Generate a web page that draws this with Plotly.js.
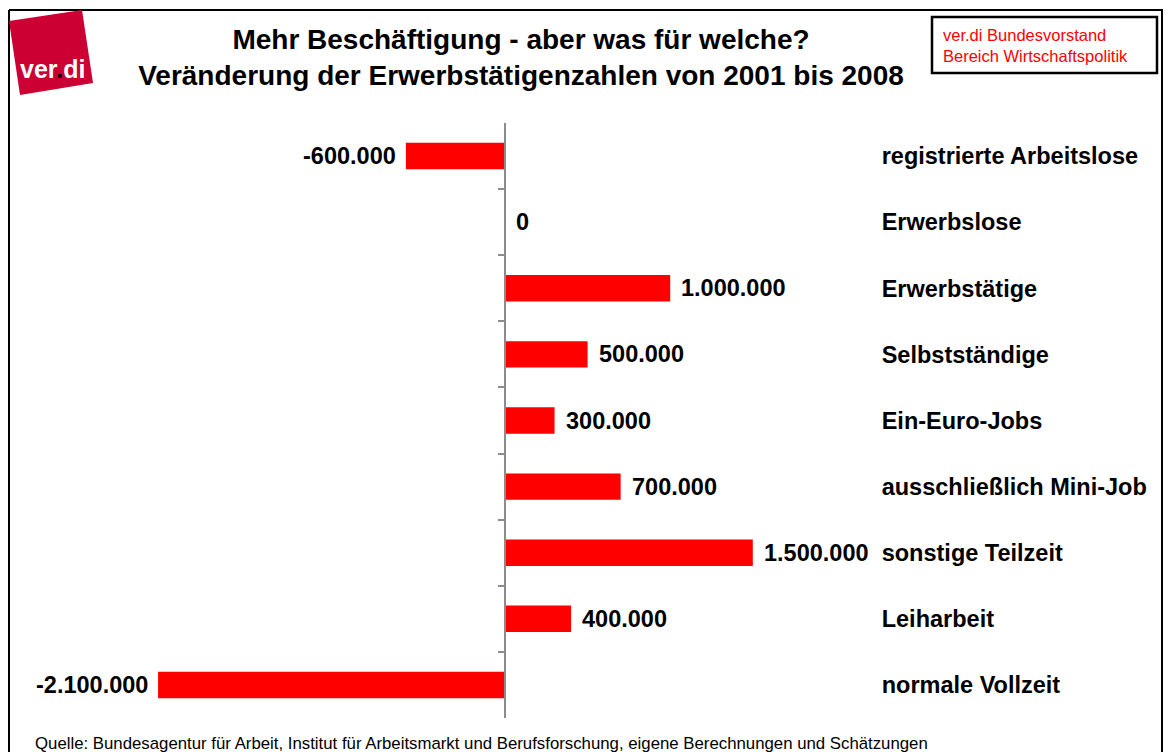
<!DOCTYPE html>
<html>
<head>
<meta charset="utf-8">
<script src="https://cdn.plot.ly/plotly-3.0.1.min.js"></script>
<style>html,body{margin:0;padding:0;background:#fff;}#chart{width:1169px;height:752px;}</style>
</head>
<body>
<div id="chart"></div>
<script>
// ---- data ----
const categories = [
  "registrierte Arbeitslose",
  "Erwerbslose",
  "Erwerbstätige",
  "Selbstständige",
  "Ein-Euro-Jobs",
  "ausschließlich Mini-Job",
  "sonstige Teilzeit",
  "Leiharbeit",
  "normale Vollzeit"
];
const changes = [-600000, 0, 1000000, 500000, 300000, 700000, 1500000, 400000, -2100000];

const titleText = "<b>Mehr Beschäftigung - aber was für welche?<br>Veränderung der Erwerbstätigenzahlen von 2001 bis 2008</b>";
const boxLines = ["ver.di Bundesvorstand", "Bereich Wirtschaftspolitik"];
const sourceText = "Quelle: Bundesagentur für Arbeit, Institut für Arbeitsmarkt und Berufsforschung, eigene Berechnungen und Schätzungen";

// ---- layout helpers ----
const W = 1169, H = 752;
const M = {l: 92, r: 251, t: 123, b: 34};
const PW = W - M.l - M.r, PH = H - M.t - M.b;
const px = x => (x - M.l) / PW;
const py = y => (H - M.b - y) / PH;

function fmt(v) {
  const s = Math.abs(v).toString().replace(/\B(?=(\d{3})+(?!\d))/g, '.');
  return (v < 0 ? '-' : '') + s;
}

const FONT = '"Liberation Sans", Arial, sans-serif';

const trace = {
  type: 'bar',
  orientation: 'h',
  y: categories,
  x: changes,
  marker: {color: '#ff0000', line: {width: 0}},
  hoverinfo: 'none'
};

const annotations = categories.map((c, i) => {
  const v = changes[i];
  return {
    x: v, y: c, xref: 'x', yref: 'y',
    text: fmt(v),
    showarrow: false,
    xanchor: v < 0 ? 'right' : 'left',
    xshift: v < 0 ? -8 : 9,
    font: {family: FONT, size: 23.5, color: '#000', weight: 'bold'}
  };
});

// logo text
annotations.push({
  xref: 'paper', yref: 'paper', x: px(52), y: py(69),
  text: 'ver<span style="color:#000">.</span>di',
  showarrow: false, xanchor: 'center', yanchor: 'middle',
  font: {family: FONT, size: 25, color: '#fff', weight: 'bold'}
});
// box text
annotations.push({
  xref: 'paper', yref: 'paper', x: px(941), y: py(45),
  text: boxLines.join('<br>'), align: 'left',
  showarrow: false, xanchor: 'left', yanchor: 'middle',
  font: {family: FONT, size: 16.5, color: '#ff0000'}
});
// source
annotations.push({
  xref: 'paper', yref: 'paper', x: px(33), y: py(743),
  text: sourceText,
  showarrow: false, xanchor: 'left', yanchor: 'middle',
  font: {family: FONT, size: 16.8, color: '#000'}
});

const shapes = [
  // outer frame
  {type: 'line', xref: 'paper', yref: 'paper', x0: px(9), x1: px(1163), y0: py(10), y1: py(10), line: {color: '#000', width: 2}},
  {type: 'line', xref: 'paper', yref: 'paper', x0: px(9), x1: px(9), y0: py(10), y1: py(760), line: {color: '#000', width: 2}},
  {type: 'line', xref: 'paper', yref: 'paper', x0: px(1162), x1: px(1162), y0: py(10), y1: py(760), line: {color: '#000', width: 2}},
  // top-right box
  {type: 'rect', xref: 'paper', yref: 'paper', x0: px(932), x1: px(1157), y0: py(17), y1: py(73), line: {color: '#000', width: 2.5}, fillcolor: '#fff'},
  // logo
  {type: 'path', xref: 'paper', yref: 'paper',
   path: `M ${px(9)} ${py(21)} L ${px(82)} ${py(10)} L ${px(93)} ${py(83)} L ${px(20)} ${py(95)} Z`,
   fillcolor: '#cc0033', line: {width: 0}}
];

const layout = {
  width: W, height: H,
  margin: M,
  paper_bgcolor: '#fff', plot_bgcolor: 'rgba(0,0,0,0)',
  showlegend: false,
  bargap: 0.6,
  font: {family: FONT, color: '#000'},
  title: {
    text: titleText,
    x: 521 / W, xref: 'container', xanchor: 'center',
    y: 1 - 49 / H, yref: 'container', yanchor: 'middle',
    font: {family: FONT, size: 28, color: '#000'}
  },
  xaxis: {
    range: [-2500000, 2500000],
    showgrid: false, zeroline: false, showline: false,
    showticklabels: false, ticks: '', fixedrange: true
  },
  yaxis: {
    type: 'category',
    autorange: 'reversed',
    anchor: 'free', position: px(505),
    side: 'right',
    showline: true, linecolor: '#8c8c8c', linewidth: 2,
    ticks: 'inside', ticklen: 6, tickwidth: 2, tickcolor: '#8c8c8c',
    tickson: 'boundaries',
    ticklabelstandoff: 371,
    showgrid: false, zeroline: false,
    tickfont: {family: FONT, size: 23.5, color: '#000', weight: 'bold'},
    fixedrange: true
  },
  shapes: shapes,
  annotations: annotations
};

Plotly.newPlot('chart', [trace], layout, {displayModeBar: false, staticPlot: true});
</script>
</body>
</html>
